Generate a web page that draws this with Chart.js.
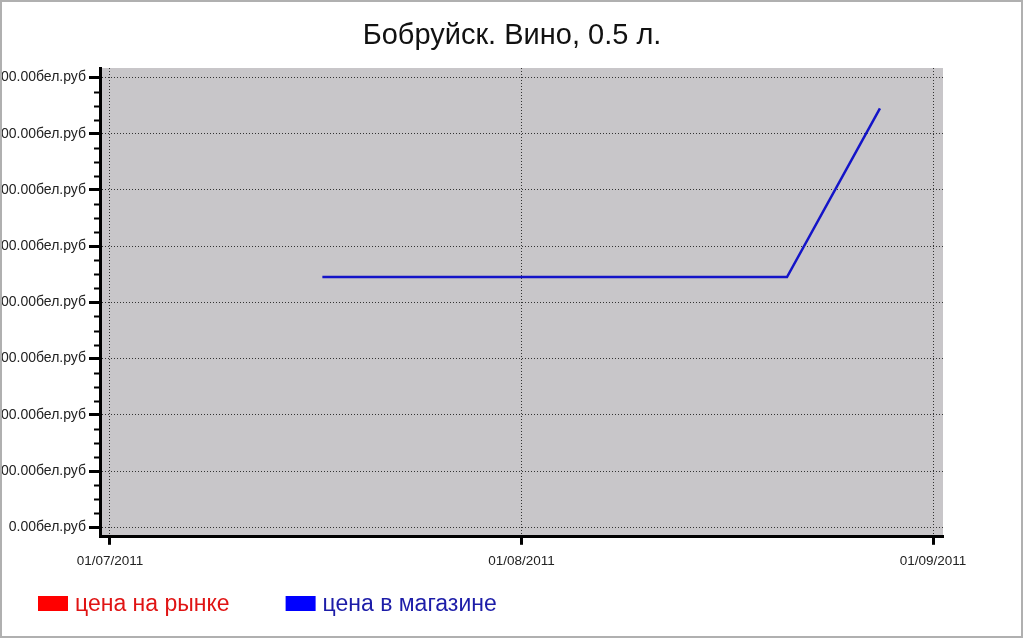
<!DOCTYPE html>
<html>
<head>
<meta charset="utf-8">
<script src="https://cdn.jsdelivr.net/npm/chart.js@4/dist/chart.umd.min.js"></script>
<style>
html,body{margin:0;padding:0;background:#fff;}
#wrap{width:1024px;height:638px;position:relative;}
</style>
</head>
<body>
<div id="wrap"><canvas id="c" width="1024" height="638"></canvas></div>
<script>
// ---- data ----
const titleText = 'Бобруйск. Вино, 0.5 л.';
const seriesNames = ['цена на рынке', 'цена в магазине'];
const marketDates = [];
const marketPrices = [];
const storeDates = ['2011-07-17', '2011-07-24', '2011-07-31', '2011-08-07', '2011-08-14', '2011-08-21', '2011-08-28'];
const storePrices = [4450, 4450, 4450, 4450, 4450, 4450, 7450];
const xTickDates = ['2011-07-01', '2011-08-01', '2011-09-01'];
const yTickValues = [0, 1000, 2000, 3000, 4000, 5000, 6000, 7000, 8000];
const currency = 'бел.руб';

const DAY = 86400000;
const origin = Date.UTC(2011, 6, 1);
function dayNum(s) { const p = s.split('-').map(Number); return (Date.UTC(p[0], p[1] - 1, p[2]) - origin) / DAY; }
function fmtDate(d) {
  const dt = new Date(origin + Math.round(d) * DAY);
  const dd = String(dt.getUTCDate()).padStart(2, '0');
  const mm = String(dt.getUTCMonth() + 1).padStart(2, '0');
  return dd + '/' + mm + '/' + dt.getUTCFullYear();
}
const xTicks = xTickDates.map(dayNum);
const xMin = xTicks[0] - 0.75, xMax = xTicks[xTicks.length - 1] + 0.75;
const yStep = yTickValues[1] - yTickValues[0];
const yMin = yTickValues[0] - 0.17 * yStep, yMax = yTickValues[yTickValues.length - 1] + 0.17 * yStep;

const marketData = marketDates.map((d, i) => ({x: dayNum(d), y: marketPrices[i]}));
const storeData = storeDates.map((d, i) => ({x: dayNum(d), y: storePrices[i]}));

const FONT = '"Liberation Sans", Arial, sans-serif';
const legendTextColors = ['#e01414', '#1c1ca8'];
const seriesColors = ['#ff0000', '#0000ff'];

const decor = {
  id: 'decor',
  beforeDraw(chart) {
    const {ctx, chartArea: a} = chart;
    ctx.save();
    ctx.fillStyle = 'rgb(200,198,201)';
    ctx.fillRect(a.left, a.top, a.right - a.left, a.bottom - a.top);
    ctx.restore();
  },
  afterDraw(chart) {
    const {ctx} = chart;
    const y = chart.scales.y;
    ctx.save();
    // minor ticks on value axis
    ctx.strokeStyle = '#000';
    ctx.lineWidth = 2;
    const sub = yStep / 4;
    for (let v = yTickValues[0]; v < yTickValues[yTickValues.length - 1]; v += sub) {
      if (Math.abs(v % yStep) < 1e-6) continue;
      const py = Math.round(y.getPixelForValue(v)) + 0.5;
      ctx.beginPath();
      ctx.moveTo(y.right - 6, py);
      ctx.lineTo(y.right, py);
      ctx.stroke();
    }
    // legend
    ctx.font = '23px ' + FONT;
    ctx.textBaseline = 'middle';
    ctx.textAlign = 'left';
    let lx = 38;
    const ly = 604;
    chart.data.datasets.forEach((ds, i) => {
      ctx.fillStyle = seriesColors[i];
      ctx.fillRect(lx, ly - 8, 30, 15);
      ctx.fillStyle = legendTextColors[i];
      ctx.fillText(ds.label, lx + 37, ly + 1);
      lx += 37 + ctx.measureText(ds.label).width + 56;
    });
    // frame
    ctx.strokeStyle = '#b0b0b0';
    ctx.lineWidth = 2;
    ctx.strokeRect(1, 1, chart.width - 3, chart.height - 2);
    ctx.restore();
  }
};

new Chart(document.getElementById('c'), {
  type: 'line',
  data: {
    datasets: [
      {label: seriesNames[0], data: marketData, borderColor: seriesColors[0], backgroundColor: seriesColors[0], borderWidth: 2.5, pointRadius: 0},
      {label: seriesNames[1], data: storeData, borderColor: '#1414c8', backgroundColor: seriesColors[1], borderWidth: 2.5, pointRadius: 0, tension: 0}
    ]
  },
  options: {
    responsive: false,
    animation: false,
    layout: {padding: {left: 0, right: 0, top: 0, bottom: 61}},
    plugins: {
      title: {
        display: true, text: titleText, color: '#111',
        font: {family: FONT, size: 29, weight: 'normal'},
        padding: {top: 18.6, bottom: 14.6}
      },
      legend: {display: false},
      tooltip: {enabled: false}
    },
    scales: {
      x: {
        type: 'linear', min: xMin, max: xMax,
        afterBuildTicks(s) { s.ticks = xTicks.map(v => ({value: v})); },
        ticks: {
          callback: v => fmtDate(v), color: '#222', padding: 8, maxRotation: 0, autoSkip: false,
          font: {family: FONT, size: 13.5}
        },
        grid: {color: '#333', lineWidth: 1, tickLength: 8, tickColor: '#000', tickWidth: 3},
        border: {color: '#000', width: 3, dash: [1, 2]}
      },
      y: {
        type: 'linear', min: yMin, max: yMax,
        afterBuildTicks(s) { s.ticks = yTickValues.map(v => ({value: v})); },
        afterFit(s) { s.width = 100; },
        ticks: {
          callback: v => Number(v).toFixed(2) + currency, color: '#222', padding: 3, autoSkip: false,
          font: {family: FONT, size: 14}
        },
        grid: {color: '#333', lineWidth: 1, tickLength: 11, tickColor: '#000', tickWidth: 3},
        border: {color: '#000', width: 3, dash: [1, 2]}
      },
      yRight: {
        type: 'linear', position: 'right', display: true,
        afterFit(s) { s.width = 81; },
        ticks: {display: false},
        grid: {display: false, drawTicks: false},
        border: {display: false}
      }
    }
  },
  plugins: [decor]
});
</script>
</body>
</html>
